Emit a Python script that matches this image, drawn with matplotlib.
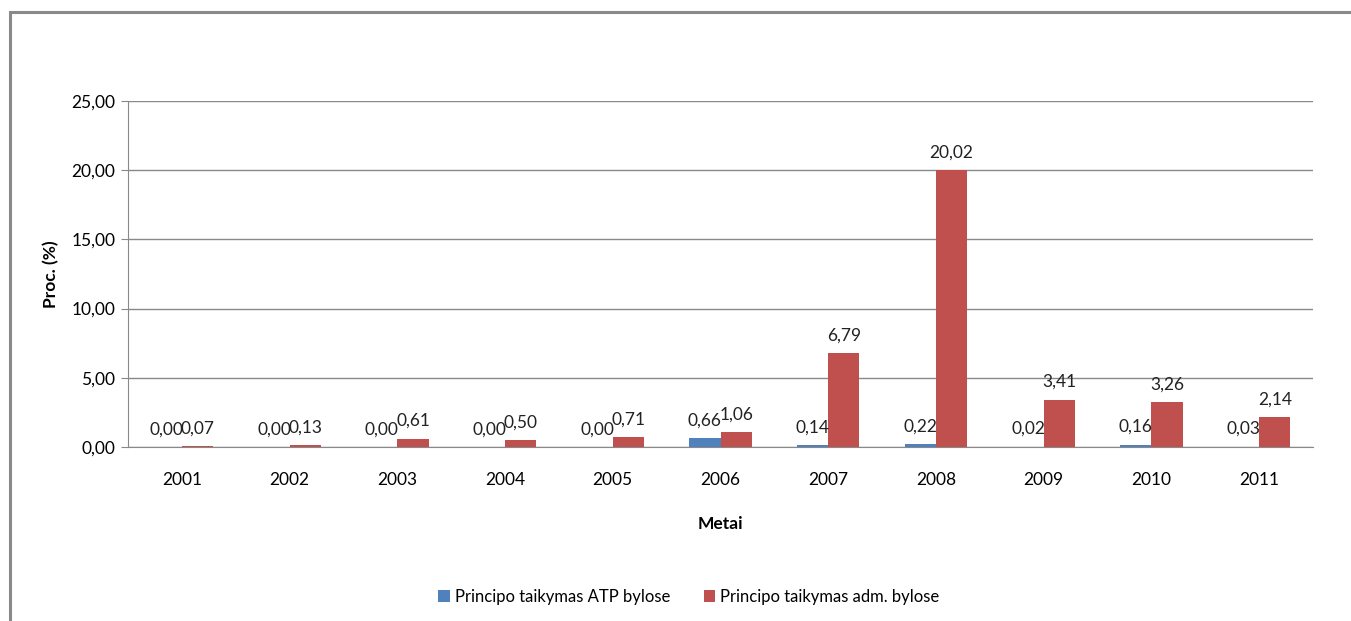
import matplotlib.pyplot as plt
import numpy as np
from matplotlib.patches import Rectangle

plt.rcParams['font.family'] = ['Lato', 'DejaVu Sans']

# data
years = ['2001', '2002', '2003', '2004', '2005', '2006', '2007', '2008', '2009', '2010', '2011']
atp = [0.00, 0.00, 0.00, 0.00, 0.00, 0.66, 0.14, 0.22, 0.02, 0.16, 0.03]
adm = [0.07, 0.13, 0.61, 0.50, 0.71, 1.06, 6.79, 20.02, 3.41, 3.26, 2.14]
yticks = [0, 5, 10, 15, 20, 25]

blue = '#4f81bd'
red = '#c0504d'
grey = '#898989'

fig = plt.figure(figsize=(13.51, 6.21), dpi=100)
ax = fig.add_axes([128 / 1351, 1 - 447 / 621, (1313 - 128) / 1351, (447 - 101) / 621])

# outer chart frame
fig.patches.append(Rectangle((10 / 1351, -0.1), 1.2, 1 - 12 / 621 + 0.1, transform=fig.transFigure,
                             fill=False, edgecolor=grey, linewidth=2.2))

x = np.arange(len(years))
w = 0.29
b1 = ax.bar(x - w / 2, atp, w, color=blue, label='Principo taikymas ATP bylose')
b2 = ax.bar(x + w / 2, adm, w, color=red, label='Principo taikymas adm. bylose')

def fmt(v):
    return f'{v:.2f}'.replace('.', ',')

for bars, vals in ((b1, atp), (b2, adm)):
    for r, v in zip(bars, vals):
        ax.annotate(fmt(v), (r.get_x() + r.get_width() / 2, v), xytext=(0, 7),
                    textcoords='offset points', ha='center', va='bottom', fontsize=12.5, color='#222222')

ax.set_xlim(-0.5, len(years) - 0.5)
ax.set_ylim(0, 25)
ax.set_yticks(yticks)
ax.set_yticklabels([fmt(t) for t in yticks], fontsize=12.5)
ax.set_xticks(x)
ax.set_xticklabels(years, fontsize=12.5)
ax.tick_params(axis='x', length=0, pad=18)
ax.tick_params(axis='y', length=5, color=grey, pad=4)
ax.yaxis.grid(True, color=grey, linewidth=1)
ax.set_axisbelow(True)
for s in ('top', 'right'):
    ax.spines[s].set_visible(False)
ax.spines['left'].set_color(grey)
ax.spines['bottom'].set_color(grey)

ax.set_ylabel('Proc. (%)', fontsize=12.5, fontweight='bold', labelpad=9)
ax.set_xlabel('Metai', fontsize=12.5, fontweight='bold', labelpad=20)

fig.legend(loc='center', bbox_to_anchor=(689 / 1351, 1 - 597 / 621), ncol=2, frameon=False,
           fontsize=12, handlelength=0.7, handleheight=0.7, columnspacing=2.0, handletextpad=0.3)

fig.savefig('out.png', dpi=100)
